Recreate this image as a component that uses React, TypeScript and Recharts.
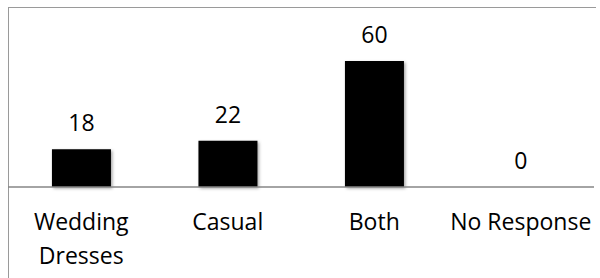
import { BarChart, Bar, XAxis, YAxis, LabelList } from 'recharts'

const categories = ['Wedding Dresses', 'Casual', 'Both', 'No Response']
const tickLines: string[][] = [['Wedding', 'Dresses'], ['Casual'], ['Both'], ['No Response']]
const values = [18, 22, 60, 0]

const data = categories.map((name, i) => ({ name, value: values[i] }))

const FONT = '"Open Sans", sans-serif'

function CategoryTick(props: any) {
  const { x, y, index } = props
  const lines = tickLines[index] || [String(props.payload?.value ?? '')]
  return (
    <text x={x} y={y} textAnchor="middle" fontFamily={FONT} fontSize={23} fill="#000">
      {lines.map((l, i) => (
        <tspan key={i} x={x} dy={i === 0 ? 35 : 34}>{l}</tspan>
      ))}
    </text>
  )
}

function ValueLabel(props: any) {
  const { x, y, width, value } = props
  return (
    <text x={x + width / 2} y={y - 18} textAnchor="middle" fontFamily={FONT} fontSize={23} fill="#000">
      {value}
    </text>
  )
}

export default function App() {
  return (
    <div style={{ position: 'absolute', left: 0, top: 0, width: 600, height: 278, background: '#fff' }}>
      {/* chart frame, cropped at right/bottom */}
      <div style={{ position: 'absolute', left: 8, top: 7, width: 587, height: 271, borderLeft: '1px solid #9a9a9a', borderTop: '1px solid #9a9a9a' }} />
      <div style={{ position: 'absolute', left: 0, top: 0 }}>
        <BarChart width={600} height={278} data={data} margin={{ top: 40, right: 6, bottom: 0, left: 8 }} barCategoryGap="30%">
          <defs>
            <filter id="barShadow" x="-20%" y="-20%" width="140%" height="140%">
              <feDropShadow dx="1.5" dy="1.5" stdDeviation="1.5" floodColor="#000" floodOpacity="0.35" />
            </filter>
          </defs>
          <XAxis
            dataKey="name"
            interval={0}
            tickLine={false}
            axisLine={{ stroke: '#868686', strokeWidth: 1.5 }}
            tick={<CategoryTick />}
            height={91}
          />
          <YAxis hide domain={[0, 70]} />
          <Bar
            dataKey="value"
            fill="#000"
            isAnimationActive={false}
            filter="url(#barShadow)"
            minPointSize={(v: number) => (v === 0 ? 0.01 : 0)}
          >
            <LabelList dataKey="value" content={<ValueLabel />} />
          </Bar>
        </BarChart>
      </div>
    </div>
  )
}
